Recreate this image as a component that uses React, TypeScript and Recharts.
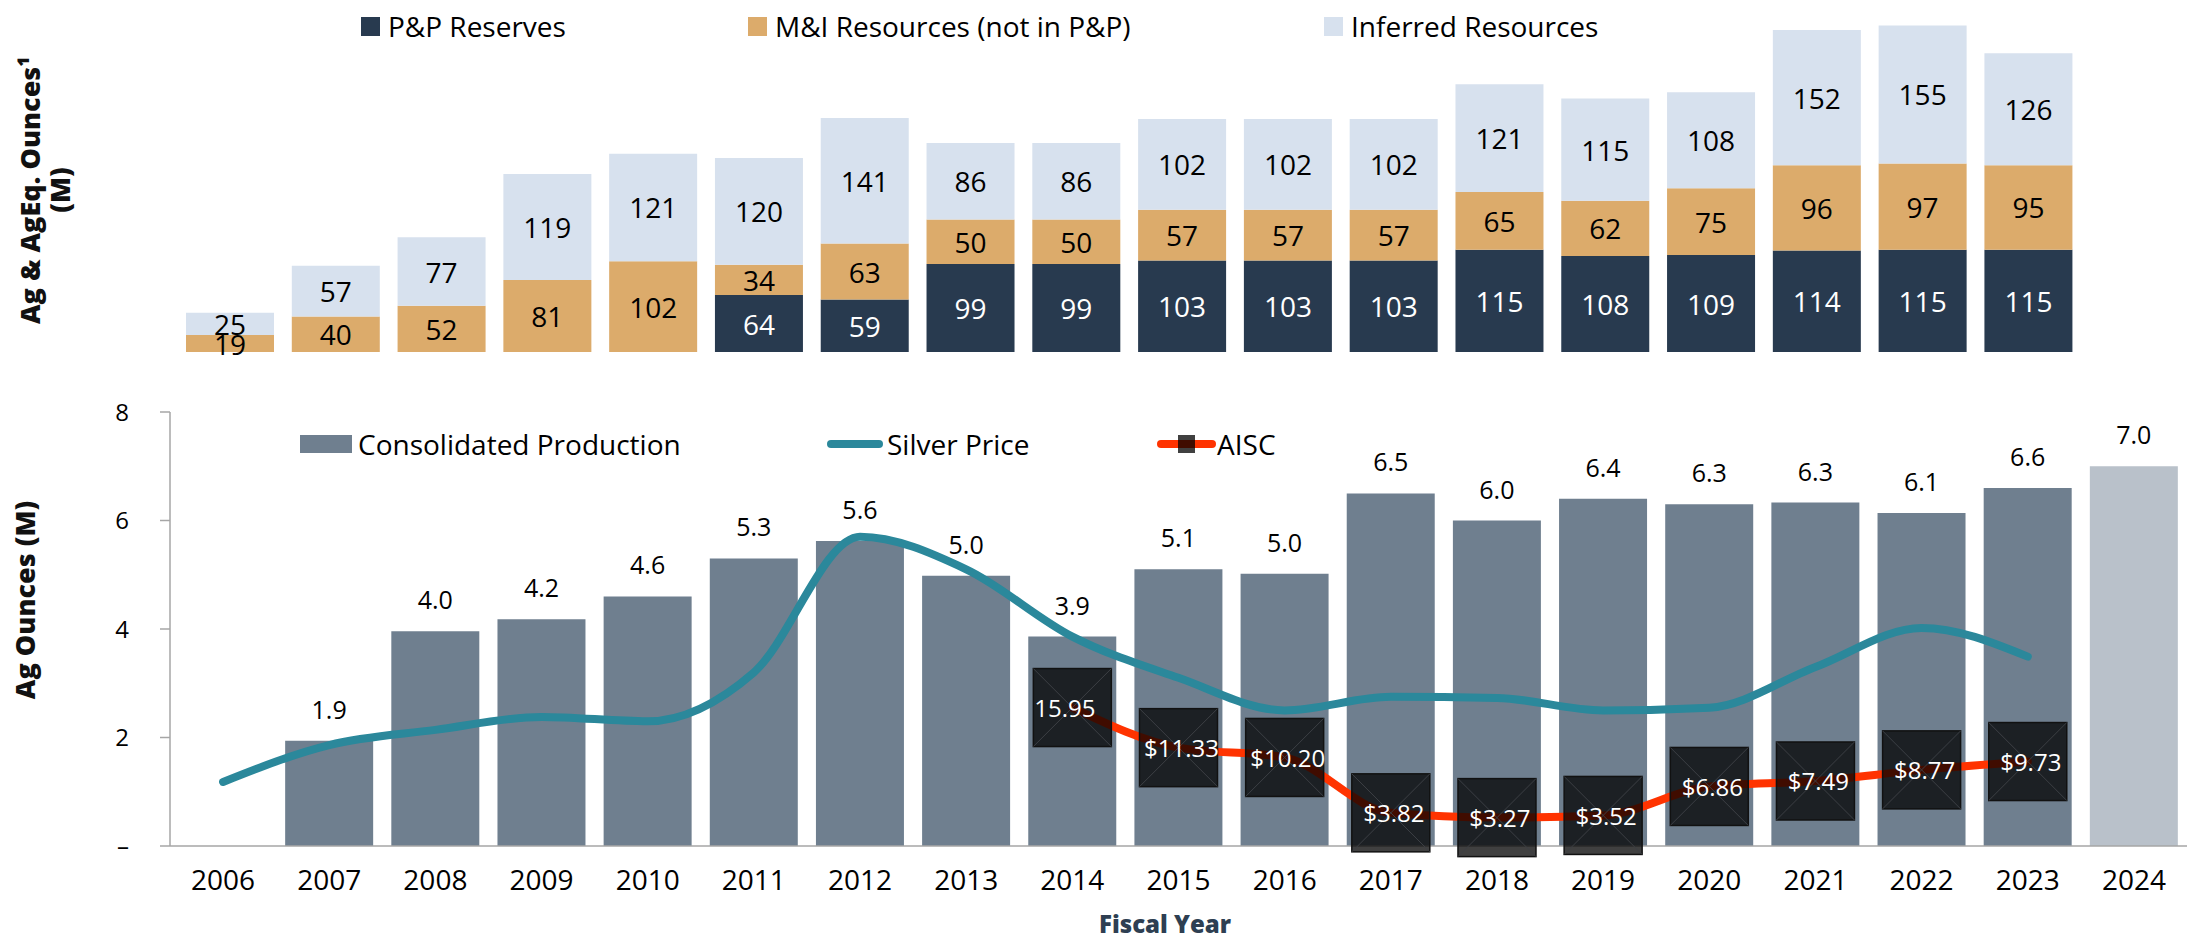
import { BarChart, Bar, ComposedChart, Line, XAxis, YAxis, Cell, LabelList } from 'recharts';

document.body.style.margin = '0';

const FONT = '"Open Sans", "DejaVu Sans", sans-serif';

const YEARS = ['2006', '2007', '2008', '2009', '2010', '2011', '2012', '2013', '2014', '2015',
  '2016', '2017', '2018', '2019', '2020', '2021', '2022', '2023', '2024'];

// reserves & resources, M oz
const PP_RESERVES = [null, null, null, null, null, 64, 59, 99, 99, 103, 103, 103, 115, 108, 109, 114, 115, 115, null];
const MI_RESOURCES = [19, 40, 52, 81, 102, 34, 63, 50, 50, 57, 57, 57, 65, 62, 75, 96, 97, 95, null];
const INFERRED = [25, 57, 77, 119, 121, 120, 141, 86, 86, 102, 102, 102, 121, 115, 108, 152, 155, 126, null];

// production, M oz (2024 = guidance)
const PRODUCTION = [null, 1.94, 3.96, 4.18, 4.6, 5.3, 5.62, 4.98, 3.86, 5.1, 5.02, 6.5, 6.0, 6.4, 6.3, 6.33, 6.14, 6.6, 7.0];
// silver price curve, read off in left-axis units
const SILVER = [1.18, 1.86, 2.14, 2.38, 2.3, 3.2, 5.7, 5.1, 3.86, 3.1, 2.5, 2.75, 2.73, 2.5, 2.55, 3.3, 4.02, 3.49, null];
// AISC $/oz
const AISC = [null, null, null, null, null, null, null, null, 15.95, 11.33, 10.2, 3.82, 3.27, 3.52, 6.86, 7.49, 8.77, 9.73, null];
const AISC_LABELS = [null, null, null, null, null, null, null, null, '15.95', '$11.33', '$10.20', '$3.82', '$3.27', '$3.52', '$6.86', '$7.49', '$8.77', '$9.73', null];

const Y_TICKS = [0, 2, 4, 6, 8];

const C_PP = '#283a4f';
const C_MI = '#dcab6b';
const C_INF = '#d7e1ee';
const C_PROD = '#6f7f8f';
const C_PROD_EST = '#b9c1ca';
const C_SILVER = '#2b889b';
const C_AISC = '#ff3300';

const topData = YEARS.map((year, i) => ({
  year,
  pp: PP_RESERVES[i],
  mi: MI_RESOURCES[i],
  inf: INFERRED[i],
}));

const bottomData = YEARS.map((year, i) => ({
  year,
  production: PRODUCTION[i],
  silver: SILVER[i],
  aisc: AISC[i],
}));

const stackLabel = (color: string) => (props: any) => {
  const { x, y, width, height, value } = props;
  if (value == null) return null;
  return (
    <text
      x={x + width / 2}
      y={y + height / 2}
      textAnchor="middle"
      dominantBaseline="central"
      fill={color}
      fontSize={28}
      fontFamily={FONT}
    >
      {value}
    </text>
  );
};

const AiscDot = (props: any) => {
  const { cx, cy, index } = props;
  if (cx == null || cy == null || AISC[index] == null) return <g key={`aisc-${index}`} />;
  const s = 78;
  const x0 = cx - s / 2;
  const y0 = cy - s / 2;
  const label = AISC_LABELS[index] || '';
  const clipped = !label.startsWith('$');
  return (
    <g key={`aisc-${index}`}>
      <rect x={x0} y={y0} width={s} height={s} fill="#000" fillOpacity={0.75} stroke="#111" strokeWidth={1.5} />
      <line x1={x0} y1={y0} x2={x0 + s} y2={y0 + s} stroke="#3c3f44" strokeWidth={1} />
      <line x1={x0 + s} y1={y0} x2={x0} y2={y0 + s} stroke="#3c3f44" strokeWidth={1} />
      <text
        x={clipped ? x0 + 1 : cx + 3}
        y={cy}
        textAnchor={clipped ? 'start' : 'middle'}
        dominantBaseline="central"
        fill="#fff"
        fontSize={24}
        fontFamily={FONT}
      >
        {label}
      </text>
    </g>
  );
};

const legendText = { fontSize: 28, color: '#000', whiteSpace: 'nowrap' as const, lineHeight: '28px' };

function LegendItem({ left, top, marker, label }: { left: number; top: number; marker: any; label: string }) {
  return (
    <div style={{ position: 'absolute', left, top, display: 'flex', alignItems: 'center', height: 28 }}>
      {marker}
      <span style={legendText}>{label}</span>
    </div>
  );
}

const square = (color: string, w: number, h: number, gap: number) => (
  <span style={{ display: 'inline-block', width: w, height: h, background: color, marginRight: gap }} />
);

export default function App() {
  return (
    <div style={{ position: 'relative', width: 2187, height: 940, background: '#fff', fontFamily: FONT, overflow: 'hidden' }}>
      {/* top: reserves & resources */}
      <div style={{ position: 'absolute', left: 0, top: 0 }}>
        <BarChart width={2187} height={370} data={topData} margin={{ top: 14, right: 0, left: 177, bottom: 18 }} barSize={88}>
          <XAxis dataKey="year" height={0} tick={false} tickLine={false} axisLine={{ stroke: '#8c8c8c', strokeWidth: 1.5 }} />
          <YAxis hide domain={[0, 380]} />
          <Bar dataKey="pp" stackId="r" fill={C_PP} isAnimationActive={false}>
            <LabelList dataKey="pp" content={stackLabel('#fff')} />
          </Bar>
          <Bar dataKey="mi" stackId="r" fill={C_MI} isAnimationActive={false}>
            <LabelList dataKey="mi" content={stackLabel('#000')} />
          </Bar>
          <Bar dataKey="inf" stackId="r" fill={C_INF} isAnimationActive={false}>
            <LabelList dataKey="inf" content={stackLabel('#000')} />
          </Bar>
        </BarChart>
      </div>
      <LegendItem left={361} top={12} marker={square(C_PP, 19, 19, 8)} label="P&P Reserves" />
      <LegendItem left={748} top={12} marker={square(C_MI, 19, 19, 8)} label="M&I Resources (not in P&P)" />
      <LegendItem left={1324} top={12} marker={square(C_INF, 19, 19, 8)} label="Inferred Resources" />
      <div
        style={{
          position: 'absolute', left: 45, top: 190, transform: 'translate(-50%, -50%) rotate(-90deg)',
          textAlign: 'center', whiteSpace: 'nowrap', fontSize: 27, fontWeight: 800, lineHeight: '30px', color: '#111',
        }}
      >
        Ag &amp; AgEq. Ounces¹<br />(M)
      </div>

      {/* bottom: production, silver price, AISC */}
      <div style={{ position: 'absolute', left: 0, top: 380 }}>
        <ComposedChart width={2187} height={560} data={bottomData} margin={{ top: 32, right: 0, left: 0, bottom: 34 }}>
          <XAxis
            dataKey="year"
            height={60}
            interval={0}
            tickLine={false}
            tickSize={0}
            tickMargin={24}
            axisLine={{ stroke: '#a6a6a6', strokeWidth: 1.5 }}
            tick={{ fontSize: 28, fill: '#000', fontFamily: FONT }}
          />
          <YAxis
            yAxisId="left"
            width={170}
            domain={[0, 8]}
            ticks={Y_TICKS}
            tickSize={10}
            tickMargin={31}
            axisLine={{ stroke: '#a6a6a6', strokeWidth: 1.5 }}
            tickLine={{ stroke: '#a6a6a6', strokeWidth: 1.5 }}
            tick={{ fontSize: 24, fill: '#000', fontFamily: FONT }}
            tickFormatter={(v: number) => (v === 0 ? '–' : String(v))}
          />
          <YAxis yAxisId="right" orientation="right" hide domain={[0, 50]} />
          <Bar yAxisId="left" dataKey="production" barSize={88} fill={C_PROD} isAnimationActive={false}>
            {bottomData.map((_, i) => (
              <Cell key={`cell-${i}`} fill={i === YEARS.length - 1 ? C_PROD_EST : C_PROD} />
            ))}
            <LabelList
              dataKey="production"
              position="top"
              offset={22}
              fill="#000"
              fontSize={25}
              fontFamily={FONT}
              formatter={(v: any) => (v == null ? '' : Number(v).toFixed(1))}
            />
          </Bar>
          <Line
            yAxisId="left"
            dataKey="silver"
            type="monotone"
            stroke={C_SILVER}
            strokeWidth={8}
            strokeLinecap="round"
            dot={false}
            activeDot={false}
            isAnimationActive={false}
          />
          <Line
            yAxisId="right"
            dataKey="aisc"
            type="monotone"
            stroke={C_AISC}
            strokeWidth={8}
            strokeLinecap="round"
            dot={AiscDot}
            activeDot={false}
            isAnimationActive={false}
          />
        </ComposedChart>
      </div>
      <LegendItem left={300} top={430} marker={square(C_PROD, 52, 18, 6)} label="Consolidated Production" />
      <LegendItem
        left={827}
        top={430}
        marker={<span style={{ display: 'inline-block', width: 56, height: 8, borderRadius: 4, background: C_SILVER, marginRight: 4 }} />}
        label="Silver Price"
      />
      <LegendItem
        left={1157}
        top={430}
        marker={
          <span style={{ position: 'relative', display: 'inline-block', width: 59, height: 18, marginRight: 1 }}>
            <span style={{ position: 'absolute', left: 0, top: 5, width: 59, height: 8, borderRadius: 4, background: C_AISC }} />
            <span style={{ position: 'absolute', left: 21, top: 0, width: 17, height: 18, background: 'rgba(0,0,0,0.75)' }} />
          </span>
        }
        label="AISC"
      />
      <div
        style={{
          position: 'absolute', left: 24, top: 600, transform: 'translate(-50%, -50%) rotate(-90deg)',
          whiteSpace: 'nowrap', fontSize: 27, fontWeight: 800, color: '#111',
        }}
      >
        Ag Ounces (M)
      </div>
      <div
        style={{
          position: 'absolute', left: 1165, top: 923, transform: 'translate(-50%, -50%)',
          whiteSpace: 'nowrap', fontSize: 24, fontWeight: 800, color: '#2e3f52',
        }}
      >
        Fiscal Year
      </div>
    </div>
  );
}
